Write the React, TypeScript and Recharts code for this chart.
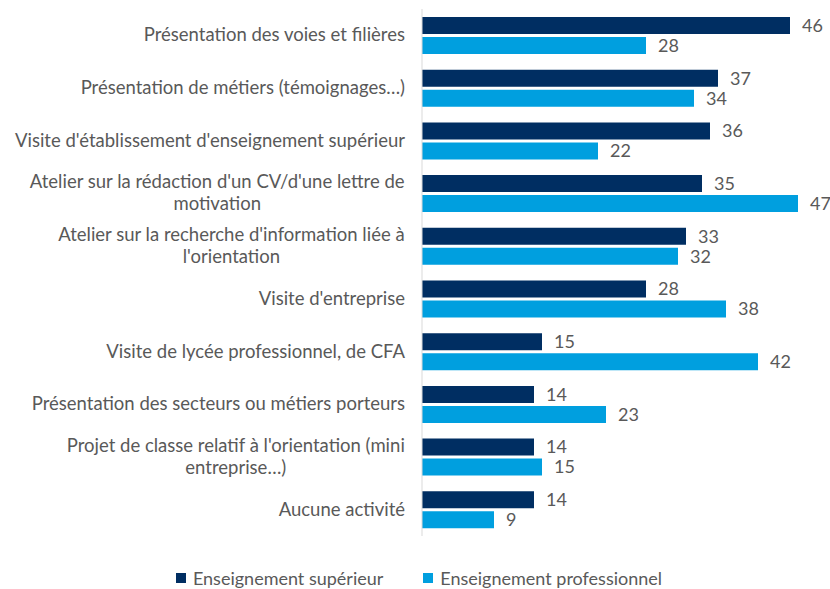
import { BarChart, Bar, XAxis, YAxis, Legend, LabelList } from "recharts";

const categories = [
  ["Présentation des voies et filières"],
  ["Présentation de métiers (témoignages…)"],
  ["Visite d'établissement d'enseignement supérieur"],
  ["Atelier sur la rédaction d'un CV/d'une lettre de", "motivation"],
  ["Atelier sur la recherche d'information liée à", "l'orientation"],
  ["Visite d'entreprise"],
  ["Visite de lycée professionnel, de CFA"],
  ["Présentation des secteurs ou métiers porteurs"],
  ["Projet de classe relatif à l'orientation (mini", "entreprise…)"],
  ["Aucune activité"],
];
const superieur = [46, 37, 36, 35, 33, 28, 15, 14, 14, 14];
const professionnel = [28, 34, 22, 47, 32, 38, 42, 23, 15, 9];

const DARK = "#002E62";
const LIGHT = "#009FDF";
const TEXT = "#595959";
const FONT = "Lato, 'Open Sans', sans-serif";
const FS = 18;
const CAT_FS = 18.5;

const data = categories.map((c, i) => ({
  name: c.join("\n"),
  sup: superieur[i],
  pro: professionnel[i],
}));

let ctx: CanvasRenderingContext2D | null = null;
function measure(s: string): number {
  if (!ctx) ctx = document.createElement("canvas").getContext("2d");
  if (!ctx) return s.length * 9;
  ctx.font = `${CAT_FS}px ${FONT}`;
  return ctx.measureText(s).width;
}

function CategoryTick(props: any) {
  const { x, y, payload } = props;
  const lines: string[] = String(payload.value).split("\n");
  if (lines.length === 1) {
    return (
      <text x={x} y={y} dy={6} textAnchor="end" fill={TEXT} fontSize={CAT_FS} fontFamily={FONT}>
        {lines[0]}
      </text>
    );
  }
  const w = Math.max(...lines.map(measure));
  const cx = x - w / 2;
  const lh = 22;
  const y0 = y - ((lines.length - 1) * lh) / 2;
  return (
    <g>
      {lines.map((l, i) => (
        <text key={i} x={cx} y={y0 + i * lh} dy={6} textAnchor="middle" fill={TEXT} fontSize={CAT_FS} fontFamily={FONT}>
          {l}
        </text>
      ))}
    </g>
  );
}

function LegendContent() {
  const items = [
    { label: "Enseignement supérieur", color: DARK },
    { label: "Enseignement professionnel", color: LIGHT },
  ];
  return (
    <div style={{ display: "flex", justifyContent: "center", gap: 40, fontFamily: FONT, fontSize: FS, color: TEXT, lineHeight: "22px" }}>
      {items.map((it) => (
        <div key={it.label} style={{ display: "flex", alignItems: "center", gap: 7 }}>
          <span style={{ width: 10, height: 10, background: it.color, display: "inline-block" }} />
          <span>{it.label}</span>
        </div>
      ))}
    </div>
  );
}

export default function App() {
  return (
    <div style={{ position: "absolute", left: 0, top: 0, background: "#fff" }}>
      <BarChart
        width={830}
        height={589}
        data={data}
        layout="vertical"
        margin={{ top: 9, right: 8, bottom: 31, left: 0 }}
        barSize={17}
        barGap={3}
      >
        <XAxis type="number" domain={[0, 50]} hide />
        <YAxis
          type="category"
          dataKey="name"
          width={422}
          axisLine={{ stroke: "#D9D9D9" }}
          tickLine={false}
          tickSize={0}
          tickMargin={17}
          tick={<CategoryTick />}
          interval={0}
        />
        <Legend verticalAlign="bottom" wrapperStyle={{ bottom: 0, left: 8 }} content={<LegendContent />} />
        <Bar dataKey="sup" fill={DARK} isAnimationActive={false}>
          <LabelList dataKey="sup" position="right" offset={12} fill={TEXT} fontSize={FS} fontFamily={FONT} />
        </Bar>
        <Bar dataKey="pro" fill={LIGHT} isAnimationActive={false}>
          <LabelList dataKey="pro" position="right" offset={12} fill={TEXT} fontSize={FS} fontFamily={FONT} />
        </Bar>
      </BarChart>
    </div>
  );
}
